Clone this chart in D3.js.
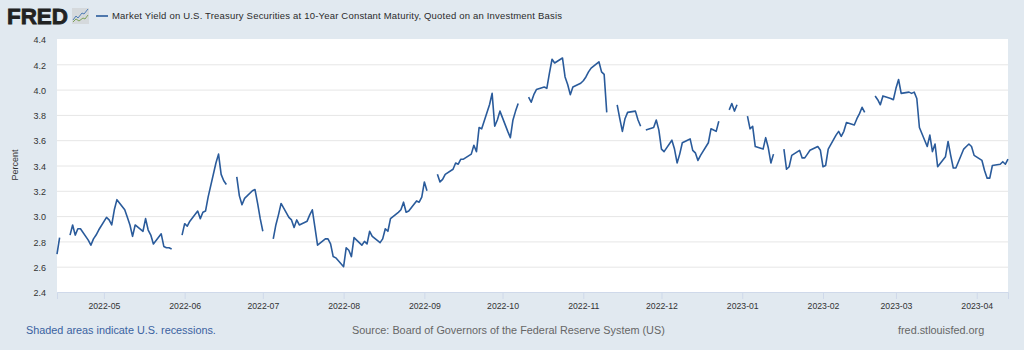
<!DOCTYPE html>
<html>
<head>
<meta charset="utf-8">
<script src="https://cdn.jsdelivr.net/npm/d3@7"></script>
<style>
    body { margin: 0; background: #e1e9f0; }
    text { font-family: "Liberation Sans", Arial, sans-serif; }
</style>
</head>
<body>
<div id="chart"></div>
<script>
const seriesTitle = 'Market Yield on U.S. Treasury Securities at 10-Year Constant Maturity, Quoted on an Investment Basis';
const yTicks = [2.4, 2.6, 2.8, 3.0, 3.2, 3.4, 3.6, 3.8, 4.0, 4.2, 4.4];
const xTicks = ['2022-05-01', '2022-06-01', '2022-07-01', '2022-08-01', '2022-09-01', '2022-10-01', '2022-11-01', '2022-12-01', '2023-01-01', '2023-02-01', '2023-03-01', '2023-04-01'];

// business days, null = no value published (holiday), which breaks the line
const dates = [
    '2022-04-13', '2022-04-14', '2022-04-15', '2022-04-18', '2022-04-19', '2022-04-20', '2022-04-21', '2022-04-22', '2022-04-25', '2022-04-26', '2022-04-27', '2022-04-28', '2022-04-29',
    '2022-05-02', '2022-05-03', '2022-05-04', '2022-05-05', '2022-05-06', '2022-05-09', '2022-05-10', '2022-05-11', '2022-05-12', '2022-05-13', '2022-05-16', '2022-05-17', '2022-05-18', '2022-05-19', '2022-05-20', '2022-05-23', '2022-05-24', '2022-05-25', '2022-05-26', '2022-05-27', '2022-05-30', '2022-05-31',
    '2022-06-01', '2022-06-02', '2022-06-03', '2022-06-06', '2022-06-07', '2022-06-08', '2022-06-09', '2022-06-10', '2022-06-13', '2022-06-14', '2022-06-15', '2022-06-16', '2022-06-17', '2022-06-20', '2022-06-21', '2022-06-22', '2022-06-23', '2022-06-24', '2022-06-27', '2022-06-28', '2022-06-29', '2022-06-30',
    '2022-07-01', '2022-07-04', '2022-07-05', '2022-07-06', '2022-07-07', '2022-07-08', '2022-07-11', '2022-07-12', '2022-07-13', '2022-07-14', '2022-07-15', '2022-07-18', '2022-07-19', '2022-07-20', '2022-07-21', '2022-07-22', '2022-07-25', '2022-07-26', '2022-07-27', '2022-07-28', '2022-07-29',
    '2022-08-01', '2022-08-02', '2022-08-03', '2022-08-04', '2022-08-05', '2022-08-08', '2022-08-09', '2022-08-10', '2022-08-11', '2022-08-12', '2022-08-15', '2022-08-16', '2022-08-17', '2022-08-18', '2022-08-19', '2022-08-22', '2022-08-23', '2022-08-24', '2022-08-25', '2022-08-26', '2022-08-29', '2022-08-30', '2022-08-31',
    '2022-09-01', '2022-09-02', '2022-09-05', '2022-09-06', '2022-09-07', '2022-09-08', '2022-09-09', '2022-09-12', '2022-09-13', '2022-09-14', '2022-09-15', '2022-09-16', '2022-09-19', '2022-09-20', '2022-09-21', '2022-09-22', '2022-09-23', '2022-09-26', '2022-09-27', '2022-09-28', '2022-09-29', '2022-09-30',
    '2022-10-03', '2022-10-04', '2022-10-05', '2022-10-06', '2022-10-07', '2022-10-10', '2022-10-11', '2022-10-12', '2022-10-13', '2022-10-14', '2022-10-17', '2022-10-18', '2022-10-19', '2022-10-20', '2022-10-21', '2022-10-24', '2022-10-25', '2022-10-26', '2022-10-27', '2022-10-28', '2022-10-31',
    '2022-11-01', '2022-11-02', '2022-11-03', '2022-11-04', '2022-11-07', '2022-11-08', '2022-11-09', '2022-11-10', '2022-11-11', '2022-11-14', '2022-11-15', '2022-11-16', '2022-11-17', '2022-11-18', '2022-11-21', '2022-11-22', '2022-11-23', '2022-11-24', '2022-11-25', '2022-11-28', '2022-11-29', '2022-11-30',
    '2022-12-01', '2022-12-02', '2022-12-05', '2022-12-06', '2022-12-07', '2022-12-08', '2022-12-09', '2022-12-12', '2022-12-13', '2022-12-14', '2022-12-15', '2022-12-16', '2022-12-19', '2022-12-20', '2022-12-21', '2022-12-22', '2022-12-23', '2022-12-26', '2022-12-27', '2022-12-28', '2022-12-29', '2022-12-30',
    '2023-01-02', '2023-01-03', '2023-01-04', '2023-01-05', '2023-01-06', '2023-01-09', '2023-01-10', '2023-01-11', '2023-01-12', '2023-01-13', '2023-01-16', '2023-01-17', '2023-01-18', '2023-01-19', '2023-01-20', '2023-01-23', '2023-01-24', '2023-01-25', '2023-01-26', '2023-01-27', '2023-01-30', '2023-01-31',
    '2023-02-01', '2023-02-02', '2023-02-03', '2023-02-06', '2023-02-07', '2023-02-08', '2023-02-09', '2023-02-10', '2023-02-13', '2023-02-14', '2023-02-15', '2023-02-16', '2023-02-17', '2023-02-20', '2023-02-21', '2023-02-22', '2023-02-23', '2023-02-24', '2023-02-27', '2023-02-28',
    '2023-03-01', '2023-03-02', '2023-03-03', '2023-03-06', '2023-03-07', '2023-03-08', '2023-03-09', '2023-03-10', '2023-03-13', '2023-03-14', '2023-03-15', '2023-03-16', '2023-03-17', '2023-03-20', '2023-03-21', '2023-03-22', '2023-03-23', '2023-03-24', '2023-03-27', '2023-03-28', '2023-03-29', '2023-03-30', '2023-03-31',
    '2023-04-03', '2023-04-04', '2023-04-05', '2023-04-06', '2023-04-07', '2023-04-10', '2023-04-11', '2023-04-12', '2023-04-13'
];
const yields = [
    2.70, 2.83, null, 2.85, 2.93, 2.85, 2.90, 2.90, 2.81, 2.77, 2.82, 2.85, 2.89,
    2.99, 2.97, 2.93, 3.05, 3.13, 3.05, 2.99, 2.93, 2.84, 2.93, 2.88, 2.98, 2.89, 2.85, 2.78, 2.86, 2.76, 2.75, 2.75, 2.74, null, 2.85,
    2.94, 2.92, 2.96, 3.04, 2.98, 3.03, 3.04, 3.15, 3.42, 3.49, 3.33, 3.28, 3.25, null, 3.31, 3.16, 3.09, 3.14, 3.20, 3.21, 3.10, 2.98,
    2.88, null, 2.82, 2.93, 3.01, 3.10, 2.99, 2.97, 2.91, 2.97, 2.93, 2.96, 3.01, 3.05, 2.91, 2.77, 2.82, 2.82, 2.78, 2.68, 2.67,
    2.60, 2.75, 2.73, 2.68, 2.83, 2.77, 2.80, 2.78, 2.88, 2.84, 2.79, 2.82, 2.90, 2.88, 2.98, 3.03, 3.05, 3.11, 3.03, 3.04, 3.12, 3.11, 3.15,
    3.27, 3.20, null, 3.33, 3.27, 3.29, 3.33, 3.37, 3.42, 3.41, 3.45, 3.45, 3.49, 3.56, 3.51, 3.70, 3.69, 3.88, 3.97, 3.71, 3.76, 3.83,
    3.67, 3.62, 3.76, 3.83, 3.89, null, 3.94, 3.90, 3.96, 4.00, 4.02, 4.01, 4.13, 4.24, 4.21, 4.25, 4.10, 4.04, 3.96, 4.02, 4.05,
    4.07, 4.10, 4.14, 4.17, 4.22, 4.14, 4.12, 3.82, null, 3.88, 3.77, 3.67, 3.77, 3.82, 3.83, 3.76, 3.71, null, 3.68, 3.70, 3.76, 3.68,
    3.53, 3.51, 3.60, 3.53, 3.42, 3.49, 3.58, 3.61, 3.52, 3.50, 3.44, 3.48, 3.58, 3.69, 3.68, 3.67, 3.75, null, 3.84, 3.89, 3.83, 3.88,
    null, 3.79, 3.69, 3.71, 3.55, 3.53, 3.62, 3.54, 3.42, 3.49, null, 3.53, 3.37, 3.39, 3.48, 3.52, 3.46, 3.46, 3.49, 3.52, 3.55, 3.52,
    3.39, 3.40, 3.53, 3.64, 3.67, 3.63, 3.67, 3.74, 3.72, 3.77, 3.81, 3.86, 3.82, null, 3.95, 3.92, 3.88, 3.95, 3.93, 3.92,
    4.01, 4.08, 3.97, 3.98, 3.97, 3.98, 3.93, 3.70, 3.55, 3.64, 3.51, 3.57, 3.39, 3.47, 3.59, 3.48, 3.38, 3.38, 3.53, 3.55, 3.57, 3.55, 3.48,
    3.44, 3.36, 3.30, 3.30, 3.40, 3.41, 3.43, 3.41, 3.45
];

const width = 1024;
const height = 350;
const margin = ({ top: 39, right: 16, bottom: 58, left: 57 });
const lineColor = '#2a5b9b';
const parseDate = d3.utcParse('%Y-%m-%d');

const svg = d3.select('#chart').append('svg')
    .attr('width', width)
    .attr('height', height)
    .style('display', 'block');

// page background and white plot area
svg.append('rect').attr('width', width).attr('height', height).attr('fill', '#e1e9f0');
svg.append('rect')
    .attr('x', margin.left)
    .attr('y', margin.top)
    .attr('width', width - margin.left - margin.right)
    .attr('height', height - margin.top - margin.bottom)
    .attr('fill', '#fff');

// define x using the observation dates
const x = d3.scaleUtc()
    .domain([parseDate(dates[0]), parseDate(dates[dates.length - 1])])
    .range([margin.left, width - margin.right]);
// define y using percent
const y = d3.scaleLinear()
    .domain([2.4, 4.4])
    .range([height - margin.bottom, margin.top]);

// y axis with grid lines
svg.append('g')
    .attr('transform', `translate(${margin.left}, 0)`)
    .call(d3.axisLeft(y).tickValues(yTicks).tickFormat(d3.format('.1f')).tickSize(0).tickPadding(11))
    .call(g => g.select('.domain').remove())
    .call(g => g.selectAll('.tick line')
        .attr('stroke', d => d === 2.4 || d === 4.4 ? 'none' : '#e6e6e6')
        .attr('x2', width - margin.left - margin.right))
    .call(g => g.selectAll('.tick text')
        .attr('font-size', 9)
        .attr('dy', '0.42em')
        .attr('fill', '#333'));

// x axis
svg.append('g')
    .attr('transform', `translate(0, ${height - margin.bottom})`)
    .call(d3.axisBottom(x)
        .tickValues(xTicks.map(parseDate))
        .tickFormat(d3.utcFormat('%Y-%m'))
        .tickSize(7)
        .tickPadding(4))
    .call(g => g.select('.domain').attr('stroke', '#cfd9ea'))
    .call(g => g.selectAll('.tick line').attr('stroke', '#cfd9ea'))
    .call(g => g.selectAll('.tick text')
        .attr('font-size', 8.7)
        .attr('fill', '#333'));

// draw the series, breaking at the missing days
const line = d3.line()
    .defined((d, i) => yields[i] !== null)
    .x(d => x(parseDate(d)))
    .y((d, i) => y(yields[i]));

svg.append('path')
    .attr('d', line(dates))
    .attr('fill', 'none')
    .attr('stroke', lineColor)
    .attr('stroke-width', 1.6)
    .attr('stroke-linejoin', 'round');

// y axis title
svg.append('text')
    .attr('transform', 'translate(18, 165) rotate(-90)')
    .attr('text-anchor', 'middle')
    .attr('font-size', 9)
    .attr('fill', '#333')
    .text('Percent');

// FRED logo
svg.append('text')
    .attr('x', 7)
    .attr('y', 24)
    .attr('font-size', 22)
    .attr('font-weight', 'bold')
    .attr('fill', '#222')
    .attr('stroke', '#222')
    .attr('stroke-width', 0.8)
    .attr('textLength', 61)
    .attr('lengthAdjust', 'spacingAndGlyphs')
    .text('FRED');
svg.append('rect')
    .attr('x', 72).attr('y', 8)
    .attr('width', 17).attr('height', 16)
    .attr('fill', '#d5d9dc');
svg.append('polyline')
    .attr('points', '73,20 76,16 78,18 82,13 84,14 88,9')
    .attr('fill', 'none')
    .attr('stroke', '#4f7db5')
    .attr('stroke-width', 1);
svg.append('polyline')
    .attr('points', '73,22 76,19 79,21 83,18 85,19 88,15')
    .attr('fill', 'none')
    .attr('stroke', '#7fa35a')
    .attr('stroke-width', 1);

// legend
svg.append('line')
    .attr('x1', 96).attr('x2', 108)
    .attr('y1', 16).attr('y2', 16)
    .attr('stroke', lineColor)
    .attr('stroke-width', 1.6);
svg.append('text')
    .attr('x', 112)
    .attr('y', 19)
    .attr('font-size', 9.5)
    .attr('fill', '#2b2b2b')
    .attr('textLength', 450)
    .text(seriesTitle);

// footer
svg.append('text')
    .attr('x', 26).attr('y', 334)
    .attr('font-size', 10.85)
    .attr('fill', '#3a62a0')
    .text('Shaded areas indicate U.S. recessions.');
svg.append('text')
    .attr('x', 352).attr('y', 334)
    .attr('font-size', 10.85)
    .attr('fill', '#666')
    .text('Source: Board of Governors of the Federal Reserve System (US)');
svg.append('text')
    .attr('x', 898).attr('y', 334)
    .attr('font-size', 10.85)
    .attr('fill', '#666')
    .text('fred.stlouisfed.org');
</script>
</body>
</html>
